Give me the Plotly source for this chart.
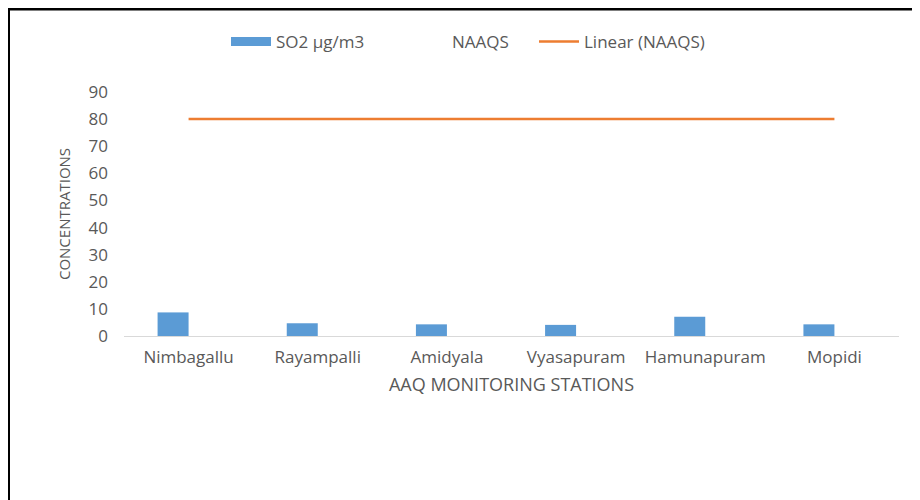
import plotly.graph_objects as go

# ── Data ──────────────────────────────────────────────────────────────────────
stations = ["Nimbagallu", "Rayampalli", "Amidyala", "Vyasapuram", "Hamunapuram", "Mopidi"]
so2_values = [8.7, 4.7, 4.3, 4.1, 7.1, 4.3]
naaqs_values = [80, 80, 80, 80, 80, 80]
y_ticks = [0, 10, 20, 30, 40, 50, 60, 70, 80, 90]

BLUE = "#5B9BD5"
ORANGE = "#ED7D31"
GREY = "#595959"
FONT = "Open Sans, Liberation Sans, sans-serif"

# page has an 8px body margin; figure is 912x492 placed at (8, 8)
W, H = 912, 492
L, R, T, B = 116, 21, 84, 164
pw, ph = W - L - R, H - T - B


def px_x(page_x):
    """page x pixel -> paper fraction"""
    return (page_x - 8 - L) / pw


fig = go.Figure()

fig.add_trace(go.Bar(
    x=stations, y=so2_values, name="SO2 µg/m3", showlegend=False,
    marker=dict(color=BLUE, line=dict(width=0)),
))
# legend swatch for the bars (wide flat rectangle, like the original)
fig.add_trace(go.Scatter(
    x=[None], y=[None], name="SO2 µg/m3", mode="lines",
    line=dict(color=BLUE, width=9), legend="legend",
))
# NAAQS bars drawn with no fill (only the legend text shows)
fig.add_trace(go.Bar(
    x=stations, y=naaqs_values, name="NAAQS", legend="legend2",
    marker=dict(color="rgba(0,0,0,0)", line=dict(width=0)),
    hoverinfo="skip",
))
fig.add_trace(go.Scatter(
    x=stations, y=naaqs_values, name="Linear (NAAQS)", legend="legend3",
    mode="lines", line=dict(color=ORANGE, width=2.5),
))

leg_common = dict(
    orientation="h", xanchor="left", y=1.0 + 50 / ph, yanchor="middle",
    font=dict(size=17, color=GREY), itemwidth=40, bgcolor="rgba(0,0,0,0)",
)

fig.update_layout(
    width=W, height=H,
    margin=dict(l=L, r=R, t=T, b=B),
    paper_bgcolor="white", plot_bgcolor="white",
    font=dict(family=FONT, color=GREY, size=15),
    barmode="group", bargap=0.52, bargroupgap=0,
    showlegend=True,
    legend=dict(x=px_x(226), **leg_common),
    legend2=dict(x=px_x(402), **leg_common),
    legend3=dict(x=px_x(534), **leg_common),
    xaxis=dict(
        showgrid=False, showline=True, linecolor="#D9D9D9", linewidth=1,
        ticks="", tickfont=dict(size=17, color=GREY), ticklabelstandoff=6,
        title=dict(text="AAQ MONITORING STATIONS", font=dict(size=18, color=GREY), standoff=10),
    ),
    yaxis=dict(
        range=[0, 90], tickvals=y_ticks, showgrid=False, zeroline=False,
        showline=False, ticks="", tickfont=dict(size=17, color=GREY),
        ticklabelstandoff=15,
        title=dict(text="CONCENTRATIONS", font=dict(size=15, color=GREY), standoff=14),
    ),
    shapes=[
        # outer frame: top and left edges
        dict(type="line", xref="paper", yref="paper",
             x0=(0 - L) / pw, x1=(W + 5 - L) / pw, y0=1 + (T - 1) / ph, y1=1 + (T - 1) / ph,
             line=dict(color="black", width=3)),
        dict(type="line", xref="paper", yref="paper",
             x0=(0.5 - L) / pw, x1=(0.5 - L) / pw, y0=1 + T / ph, y1=-(B + 5) / ph,
             line=dict(color="black", width=3)),
    ],
)

fig.write_html("out.html")
